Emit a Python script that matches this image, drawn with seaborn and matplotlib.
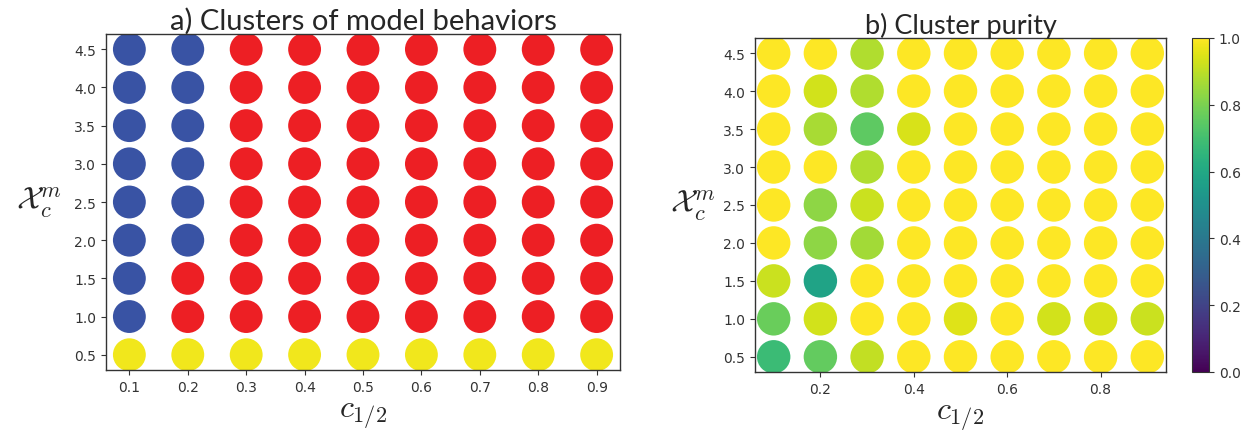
import numpy as np
import pandas as pd
import matplotlib
matplotlib.use("Agg")
import matplotlib.pyplot as plt
import seaborn as sns

# Parameter grid
c_half = [0.1, 0.2, 0.3, 0.4, 0.5, 0.6, 0.7, 0.8, 0.9]
chi_m = [0.5, 1.0, 1.5, 2.0, 2.5, 3.0, 3.5, 4.0, 4.5]

# Cluster label per grid point (rows follow chi_m, columns follow c_half)
cluster_rows = [
    [2, 2, 2, 2, 2, 2, 2, 2, 2],  # 0.5
    [0, 1, 1, 1, 1, 1, 1, 1, 1],  # 1.0
    [0, 1, 1, 1, 1, 1, 1, 1, 1],  # 1.5
    [0, 0, 1, 1, 1, 1, 1, 1, 1],  # 2.0
    [0, 0, 1, 1, 1, 1, 1, 1, 1],  # 2.5
    [0, 0, 1, 1, 1, 1, 1, 1, 1],  # 3.0
    [0, 0, 1, 1, 1, 1, 1, 1, 1],  # 3.5
    [0, 0, 1, 1, 1, 1, 1, 1, 1],  # 4.0
    [0, 0, 1, 1, 1, 1, 1, 1, 1],  # 4.5
]

# Fraction of runs agreeing with the assigned cluster
purity_rows = [
    [0.68, 0.76, 0.91, 1.00, 1.00, 1.00, 1.00, 1.00, 1.00],  # 0.5
    [0.77, 0.93, 1.00, 1.00, 0.95, 1.00, 0.93, 0.94, 0.92],  # 1.0
    [0.92, 0.58, 1.00, 1.00, 1.00, 1.00, 1.00, 1.00, 1.00],  # 1.5
    [1.00, 0.83, 0.86, 1.00, 1.00, 1.00, 1.00, 1.00, 1.00],  # 2.0
    [1.00, 0.83, 0.92, 1.00, 1.00, 1.00, 1.00, 1.00, 1.00],  # 2.5
    [1.00, 1.00, 0.88, 1.00, 1.00, 1.00, 1.00, 1.00, 1.00],  # 3.0
    [1.00, 0.87, 0.75, 0.94, 1.00, 1.00, 1.00, 1.00, 1.00],  # 3.5
    [1.00, 0.93, 0.88, 1.00, 1.00, 1.00, 1.00, 1.00, 1.00],  # 4.0
    [1.00, 1.00, 0.88, 1.00, 1.00, 1.00, 1.00, 1.00, 1.00],  # 4.5
]

cluster_colors = {0: "#3953a4", 1: "#ed1f24", 2: "#f1e71c"}

records = []
for i, y in enumerate(chi_m):
    for j, x in enumerate(c_half):
        records.append({"c": x, "chi": y,
                        "cluster": cluster_rows[i][j],
                        "purity": purity_rows[i][j]})
df = pd.DataFrame(records)

sns.set_style("ticks")
plt.rcParams["mathtext.fontset"] = "cm"
plt.rcParams["font.family"] = ["DejaVu Sans"]

fig = plt.figure(figsize=(12.5, 4.31), dpi=100)
ax_a = fig.add_axes([0.0848, 0.1392, 0.4112, 0.7796])
ax_b = fig.add_axes([0.604, 0.1346, 0.3288, 0.775])
cax = fig.add_axes([0.9536, 0.1346, 0.0136, 0.775])

tick_color = "#333333"
label_font = dict(fontsize=23)

# a) cluster assignments
sns.scatterplot(data=df, x="c", y="chi", hue="cluster", palette=cluster_colors,
                s=560, linewidth=0, legend=False, ax=ax_a)
ax_a.set_xticks(c_half)
ax_a.set_yticks(chi_m)
ax_a.set_title("a) Clusters of model behaviors", pad=3, family="Lato", fontsize=21)

# b) cluster purity
norm = matplotlib.colors.Normalize(0, 1)
sns.scatterplot(data=df, x="c", y="chi", hue="purity", palette="viridis",
                hue_norm=norm, s=580, linewidth=0, legend=False, ax=ax_b)
ax_b.set_xticks([0.2, 0.4, 0.6, 0.8])
ax_b.set_yticks(chi_m)
ax_b.set_title("b) Cluster purity", pad=3, family="Lato", fontsize=19.5)

sm = matplotlib.cm.ScalarMappable(norm=norm, cmap="viridis")
cb = fig.colorbar(sm, cax=cax, ticks=[0, 0.2, 0.4, 0.6, 0.8, 1.0])
cb.outline.set_edgecolor(tick_color)
cax.tick_params(labelsize=10, colors=tick_color, length=3.5)
for lab in cax.get_yticklabels():
    lab.set_color(tick_color)

for ax, lp in ((ax_a, 26), (ax_b, 22)):
    ax.set_xlim(0.06, 0.94)
    ax.set_ylim(0.3, 4.7)
    ax.set_xlabel(r"$c_{1/2}$", labelpad=4, **label_font)
    ax.set_ylabel(r"$\mathcal{X}_c^m$", rotation=0, labelpad=lp, va="center", **label_font)
    ax.tick_params(labelsize=10, colors=tick_color, length=3.5)
    for sp in ax.spines.values():
        sp.set_edgecolor(tick_color)
        sp.set_linewidth(1.0)

fig.savefig("out.png", dpi=100)
